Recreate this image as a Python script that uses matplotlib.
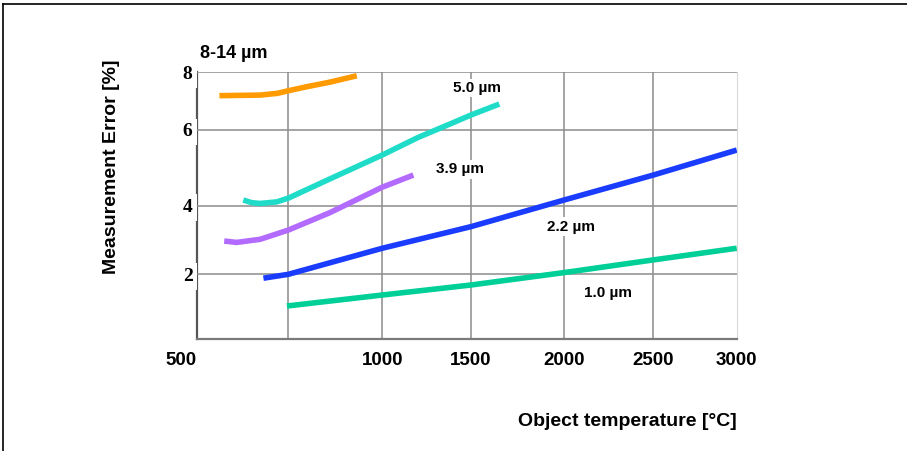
import numpy as np
import matplotlib
matplotlib.use("Agg")
import matplotlib.pyplot as plt
from matplotlib.lines import Line2D

# The printed chart uses an uneven axis: 500-1000 spans two grid cells,
# the rest one cell per 500 degC. Same on the y axis. Map it with a FuncScale.
x_breaks = [500, 750, 1000, 1500, 2000, 2500, 3000]
x_pos = [0, 91.6, 185.6, 274.3, 367.3, 456.6, 540]
y_breaks = [0, 2, 4, 6, 8]
y_pos = [0, 64.7, 133.3, 209, 266.7]

# Curves (object temperature degC, error %)
t_8_14 = [562, 673, 720, 750, 799, 861, 932]
e_8_14 = [7.19, 7.21, 7.27, 7.36, 7.50, 7.66, 7.88]

t_5_0 = [627, 650, 673, 718, 750, 861, 1000, 1200, 1382, 1500, 1652]
e_5_0 = [4.15, 4.08, 4.06, 4.10, 4.20, 4.71, 5.34, 5.80, 6.21, 6.52, 6.90]

t_3_9 = [575, 609, 673, 750, 861, 1000, 1175]
e_3_9 = [2.97, 2.93, 3.02, 3.29, 3.80, 4.49, 4.81]

t_2_2 = [682, 750, 1000, 1500, 2000, 2500, 3000]
e_2_2 = [1.88, 2.00, 2.76, 3.39, 4.15, 4.81, 5.47]

t_1_0 = [746, 1000, 1500, 2000, 2500, 3000]
e_1_0 = [1.02, 1.36, 1.67, 2.05, 2.42, 2.76]

x_ticks = [500, 1000, 1500, 2000, 2500, 3000]
x_grid = [750, 1000, 1500, 2000, 2500]
y_ticks = [2, 4, 6, 8]


def fwd_x(v):
    return np.interp(v, x_breaks, x_pos)


def inv_x(p):
    return np.interp(p, x_pos, x_breaks)


def fwd_y(v):
    return np.interp(v, y_breaks, y_pos)


def inv_y(p):
    return np.interp(p, y_pos, y_breaks)


fig = plt.figure(figsize=(9.07, 4.51), dpi=100)
ax = fig.add_axes([0.2169, 0.2483, 0.5954, 0.5914])
ax.set_xscale('function', functions=(fwd_x, inv_x))
ax.set_yscale('function', functions=(fwd_y, inv_y))
ax.set_xlim(500, 3000)
ax.set_ylim(0, 8)

# Curves
line_kw = dict(lw=4, solid_capstyle='butt', solid_joinstyle='round')
ax.plot(t_8_14, e_8_14, color='#ff9a00', **line_kw)
ax.plot(t_5_0, e_5_0, color='#1fdcc8', **line_kw)
ax.plot(t_3_9, e_3_9, color='#b36bff', **line_kw)
ax.plot(t_2_2, e_2_2, color='#1a3cff', **line_kw)
ax.plot(t_1_0, e_1_0, color='#00cf98', **line_kw)

# Curve labels
lab_kw = dict(fontsize=11, fontweight='bold', family='Liberation Sans',
              ha='center', va='center', zorder=3,
              bbox=dict(boxstyle='square,pad=0.15', fc='white', ec='none'))
ax.text(1531, 7.45, '5.0 µm', **lab_kw)
ax.text(1438, 4.96, '3.9 µm', **lab_kw)
ax.text(2037, 3.39, '2.2 µm', **lab_kw)
ax.text(2248, 1.41, '1.0 µm', **lab_kw)
ax.text(0.006, 1.069, '8-14 µm', transform=ax.transAxes, fontsize=13,
        fontweight='bold', family='Liberation Sans', ha='left', va='center')

# Ticks and grid
ax.xaxis.remove_overlapping_locs = False
ax.set_xticks(x_ticks)
ax.set_xticklabels([str(v) for v in x_ticks], fontsize=13.5,
                   fontweight='bold', family='Liberation Sans')
ax.set_xticks(x_grid, minor=True)
ax.set_yticks(y_ticks)
ax.set_yticklabels([str(v) for v in y_ticks], fontsize=14,
                   fontweight='bold', family='Liberation Serif')
for lab in ax.get_yticklabels():
    lab.set_bbox(dict(boxstyle='square,pad=0.25', fc='white', ec='none'))
ax.get_xticklabels()[0].set_ha('right')
ax.tick_params(axis='both', which='both', length=0)
ax.tick_params(axis='x', pad=9)
ax.tick_params(axis='y', pad=3)
ax.grid(axis='x', which='minor', color='#8c8c8c', lw=1.1)
ax.grid(axis='x', which='major', visible=False)
ax.grid(axis='y', which='major', color='#8c8c8c', lw=1.1)

# Frame
ax.spines['top'].set_visible(False)
ax.spines['right'].set_color('#d9d9d9')
ax.spines['right'].set_linewidth(0.8)
ax.spines['left'].set_color('#555555')
ax.spines['left'].set_linewidth(1.6)
ax.spines['left'].set_zorder(1.0)
ax.spines['bottom'].set_color('#7a7a7a')
ax.spines['bottom'].set_linewidth(1.6)

# Axis titles
ax.set_xlabel('Object temperature [°C]', fontsize=14, fontweight='bold',
              family='Liberation Sans', va='center')
ax.xaxis.set_label_coords(0.797, -0.311)
ax.set_ylabel('Measurement Error [%]', fontsize=14, fontweight='bold',
              family='Liberation Sans', va='center')
ax.yaxis.set_label_coords(-0.157, 0.647)

# Border on the left and top of the picture
fig.add_artist(Line2D([0.0033, 0.0033], [0, 0.9911], color='black', lw=1.2))
fig.add_artist(Line2D([0.0033, 1], [0.9911, 0.9911], color='black', lw=1.2))

fig.savefig('out.png', dpi=100)
